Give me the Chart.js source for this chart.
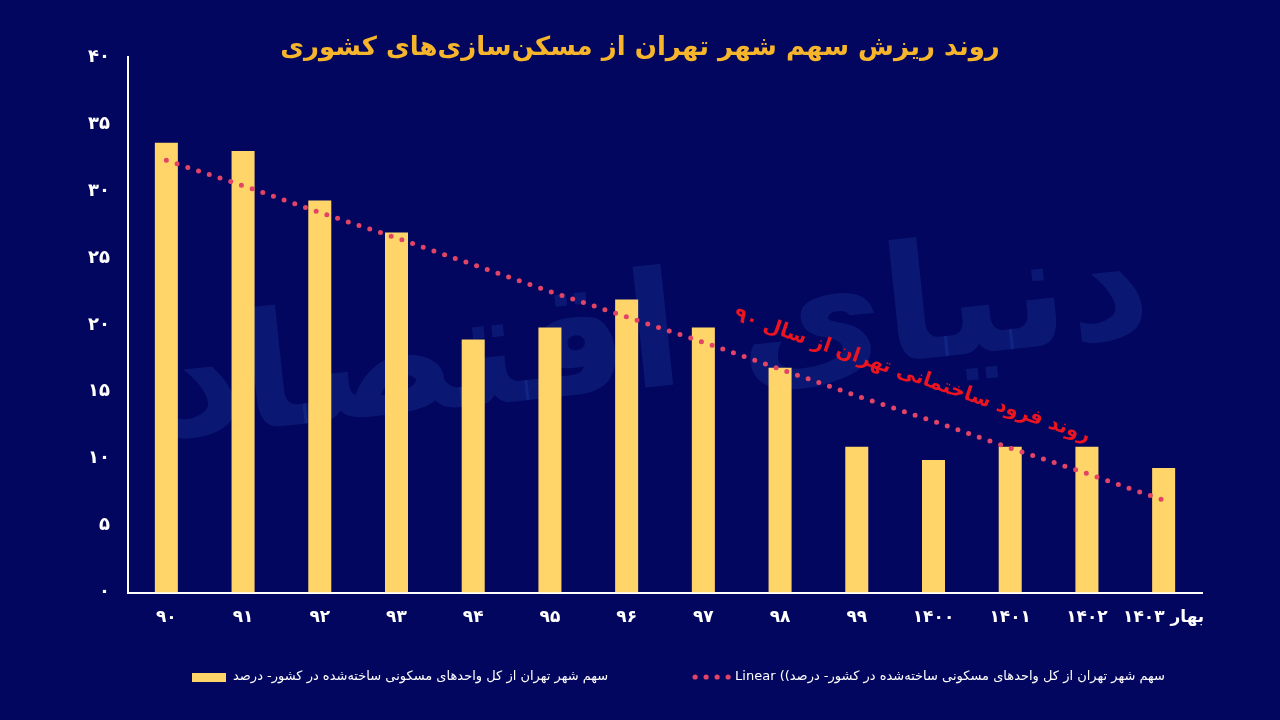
<!DOCTYPE html>
<html lang="fa">
<head>
<meta charset="utf-8">
<title>روند ریزش سهم شهر تهران از مسکن‌سازی‌های کشوری</title>
<script src="https://cdn.jsdelivr.net/npm/chart.js@4.4.1/dist/chart.umd.min.js"></script>
<style>
  html, body { margin: 0; padding: 0; background: #02065e; }
  #wrap { width: 1280px; height: 720px; position: relative; }
</style>
</head>
<body>
<div id="wrap"><canvas id="chart" dir="rtl"></canvas></div>
<script>
const CATEGORIES = ["۹۰", "۹۱", "۹۲", "۹۳", "۹۴", "۹۵", "۹۶", "۹۷", "۹۸", "۹۹", "۱۴۰۰", "۱۴۰۱", "۱۴۰۲", "بهار ۱۴۰۳"];
const SHARE_VALUES = [33.6, 33.0, 29.3, 26.9, 18.9, 19.8, 21.9, 19.8, 16.8, 10.9, 9.9, 10.9, 10.9, 9.3];
const TREND_VALUES = [32.3, 30.4, 28.4, 26.5, 24.5, 22.5, 20.6, 18.7, 16.7, 14.7, 12.8, 10.8, 8.9, 6.9];
const Y_TICK_LABELS = ["۰", "۵", "۱۰", "۱۵", "۲۰", "۲۵", "۳۰", "۳۵", "۴۰"];

const TITLE_TEXT = "روند ریزش سهم شهر تهران از مسکن‌سازی‌های کشوری";
const SHARE_LABEL = "سهم شهر تهران از کل واحدهای مسکونی ساخته‌شده در کشور- درصد";
const TREND_LABEL = SHARE_LABEL + ")) Linear";
const NOTE_TEXT = "روند فرود ساختمانی تهران از سال ۹۰";
const WATERMARK_TEXT = "دنیای اقتصاد";

// where the red note sits, in axis units (category index, percent)
const NOTE_AT = { index: 9.72, value: 16.2, angle: 19 };

const FONT = "'DejaVu Sans', sans-serif";
const BAR_COLOR = "#ffd56a";
const TREND_COLOR = "#e14466";

const watermarkPlugin = {
  id: "watermark",
  beforeDatasetsDraw(chart) {
    const { ctx, chartArea } = chart;
    ctx.save();
    ctx.translate((chartArea.left + chartArea.right) / 2 - 10, (chartArea.top + chartArea.bottom) / 2 + 20);
    ctx.rotate(-6 * Math.PI / 180);
    ctx.font = `bold 160px ${FONT}`;
    ctx.fillStyle = "rgba(40, 85, 190, 0.22)";
    ctx.textAlign = "center";
    ctx.textBaseline = "middle";
    ctx.direction = "rtl";
    ctx.fillText(WATERMARK_TEXT, 0, 0);
    ctx.restore();
  },
};

const notePlugin = {
  id: "note",
  afterDatasetsDraw(chart) {
    const { ctx, scales } = chart;
    const x = scales.x.getPixelForValue(NOTE_AT.index);
    const y = scales.y.getPixelForValue(NOTE_AT.value);
    ctx.save();
    ctx.translate(x, y);
    ctx.rotate(NOTE_AT.angle * Math.PI / 180);
    ctx.font = `bold 20px ${FONT}`;
    ctx.fillStyle = "#ec1420";
    ctx.textAlign = "center";
    ctx.textBaseline = "middle";
    ctx.direction = "rtl";
    ctx.fillText(NOTE_TEXT, 0, 0);
    ctx.restore();
  },
};

// legend drawn by hand: boxes sit left of the rtl text, wide gap between items
const legendPlugin = {
  id: "sideLegend",
  afterDraw(chart) {
    const { ctx } = chart;
    const [bars, trend] = chart.data.datasets;
    const y = 677;
    ctx.save();
    ctx.font = `13px ${FONT}`;
    ctx.textBaseline = "middle";
    ctx.direction = "rtl";

    ctx.fillStyle = bars.backgroundColor;
    ctx.fillRect(192, y - 4, 34, 9);
    ctx.fillStyle = "#ffffff";
    ctx.textAlign = "left";
    ctx.fillText(bars.label, 233, y);

    const right = 1165;
    const width = ctx.measureText(trend.label).width;
    ctx.textAlign = "right";
    ctx.fillText(trend.label, right, y);
    ctx.fillStyle = trend.borderColor;
    const start = right - width - 40;
    for (let i = 0; i < 4; i++) {
      ctx.beginPath();
      ctx.arc(start + i * 11, y, 2.6, 0, Math.PI * 2);
      ctx.fill();
    }
    ctx.restore();
  },
};

new Chart(document.getElementById("chart"), {
  type: "bar",
  data: {
    labels: CATEGORIES,
    datasets: [
      {
        type: "bar",
        label: SHARE_LABEL,
        data: SHARE_VALUES,
        backgroundColor: BAR_COLOR,
        barPercentage: 0.3,
        categoryPercentage: 1,
        order: 1,
      },
      {
        type: "line",
        label: TREND_LABEL,
        data: TREND_VALUES,
        borderColor: TREND_COLOR,
        backgroundColor: TREND_COLOR,
        borderWidth: 5,
        borderDash: [0, 11.3],
        borderCapStyle: "round",
        pointRadius: 0,
        fill: false,
        tension: 0,
        order: 0,
      },
    ],
  },
  options: {
    responsive: true,
    maintainAspectRatio: false,
    animation: false,
    layout: {
      padding: { top: 0, right: 0, bottom: 77, left: 0 },
    },
    plugins: {
      tooltip: { enabled: false },
      legend: { display: false },
      title: {
        display: true,
        text: TITLE_TEXT,
        color: "#f7b52c",
        font: { family: FONT, size: 26, weight: "bold" },
        padding: { top: 33, bottom: -7 },
      },
    },
    scales: {
      x: {
        grid: { display: false, drawTicks: false },
        border: { display: true, color: "#ffffff", width: 2 },
        ticks: {
          color: "#ffffff",
          font: { family: FONT, size: 17, weight: "bold" },
          padding: 15,
          maxRotation: 0,
          autoSkip: false,
        },
      },
      y: {
        min: 0,
        max: 40,
        afterFit(scale) {
          scale.width = 128;
        },
        grid: { display: false, drawTicks: false },
        border: { display: true, color: "#ffffff", width: 2 },
        ticks: {
          stepSize: 5,
          color: "#ffffff",
          font: { family: FONT, size: 18, weight: "bold" },
          padding: 18,
          callback: (value, index) => Y_TICK_LABELS[index],
        },
      },
      // empty right-hand gutter so the title stays centred on the page
      gutter: {
        type: "linear",
        position: "right",
        display: true,
        afterFit(scale) {
          scale.width = 78;
        },
        grid: { display: false, drawTicks: false },
        border: { display: false },
        ticks: { display: false },
      },
    },
  },
  plugins: [watermarkPlugin, notePlugin, legendPlugin],
});
</script>
</body>
</html>
